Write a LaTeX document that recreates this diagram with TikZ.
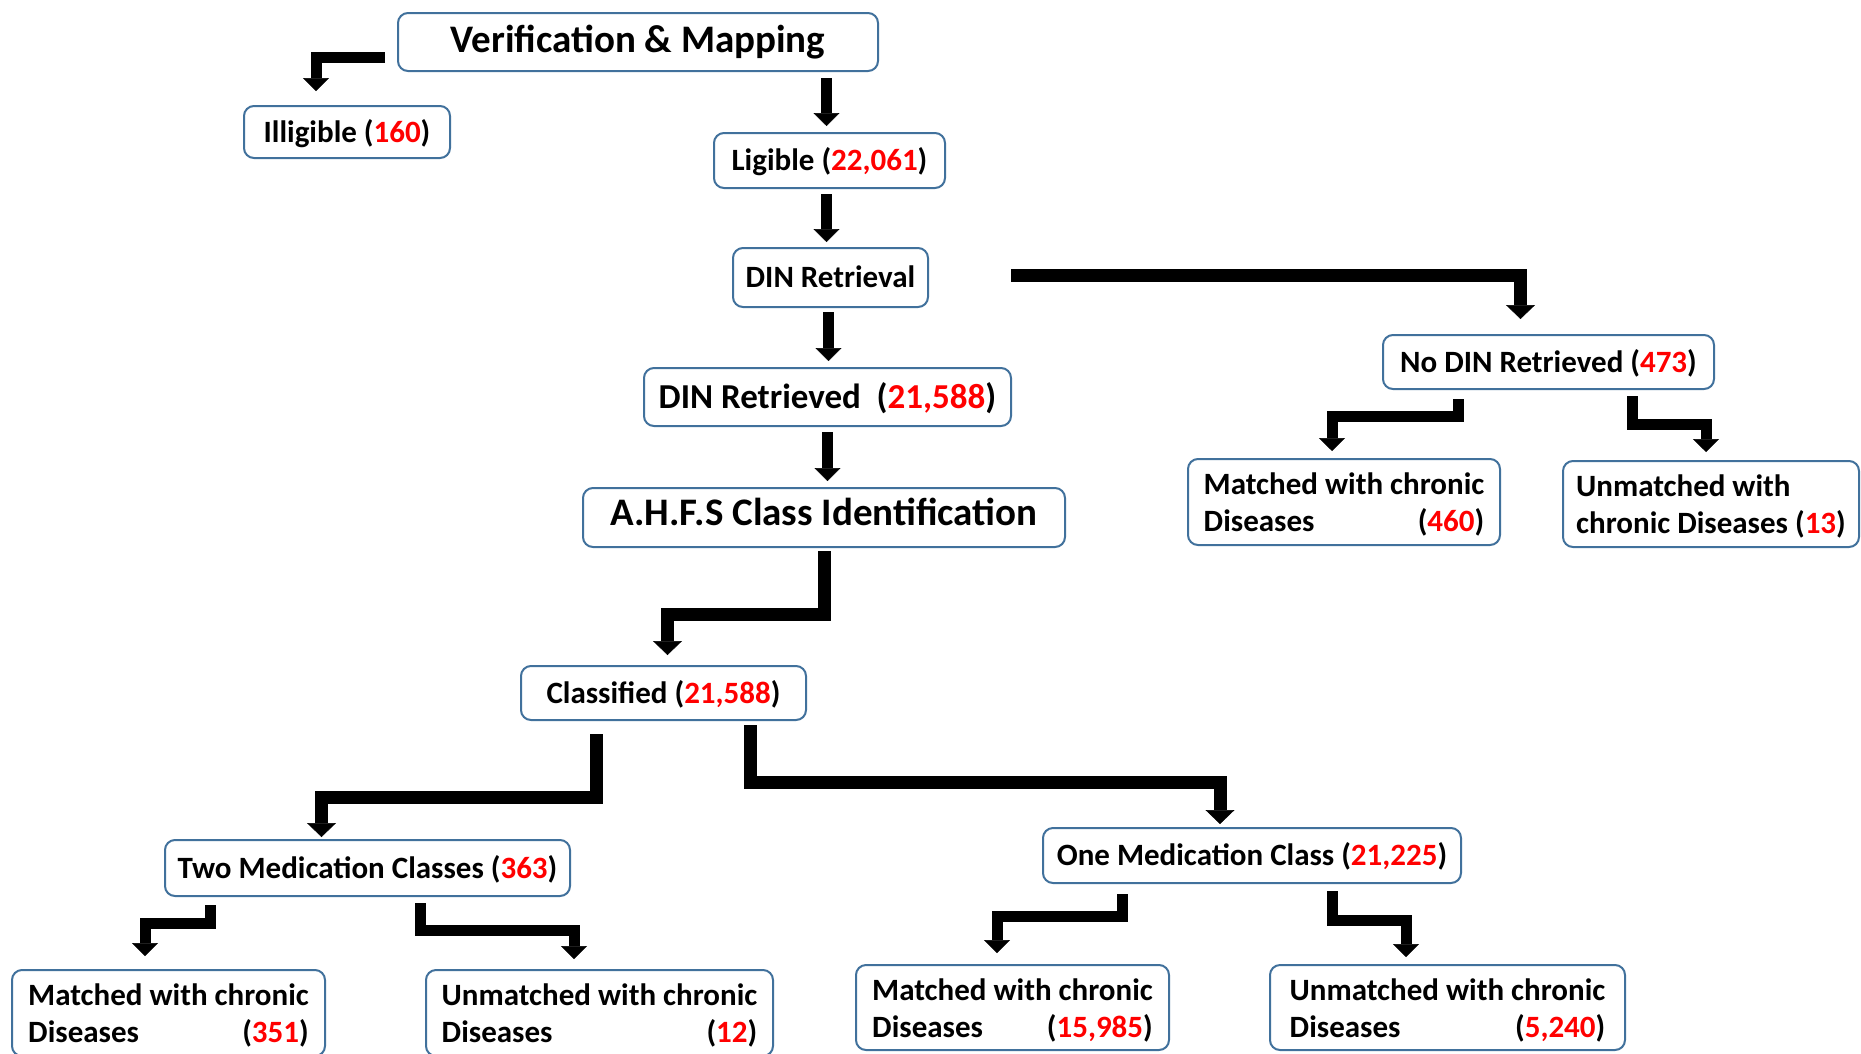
\documentclass[tikz,border=0pt]{standalone}
\usepackage{fontspec}
\setmainfont{Carlito}
\usetikzlibrary{arrows.meta,calc}
\definecolor{boxblue}{RGB}{65,113,156}
\newcommand\rn[1]{\textcolor{red}{#1}}
\newcommand\firstline{\rule{0pt}{33.9pt}}
\begin{document}
\begin{tikzpicture}[x=1pt,y=-1pt,
  box/.style={draw=boxblue, line width=2pt, rounded corners=10pt, fill=white, inner sep=0pt, align=center,
    font=\bfseries\fontsize{31}{37}\selectfont},
  single/.style={text height=24pt, text depth=4pt},
  bigfont/.style={font=\bfseries\fontsize{39}{47}\selectfont, text height=30pt, text depth=10pt},
  conn/.style={line width=11pt, -{Triangle[width=26pt,length=13pt,line width=0.5pt]}},
  heavy/.style={line width=13pt, -{Triangle[width=29pt,length=14pt,line width=0.5pt]}}]
\useasboundingbox (0,0) rectangle (1861,1053);
\fill[white] (0,0) rectangle (1861,1053);

% nodes
\node[box, bigfont, minimum width=480pt, minimum height=58pt] (verif) at (638,42) {Verification \& Mapping};
\node[box, single, minimum width=206pt, minimum height=52pt] (illig) at (347,132) {Illigible (\rn{160})};
\node[box, single, minimum width=231pt, minimum height=55pt] (lig) at (829.5,160.5) {Ligible (\rn{22,061})};
\node[box, single, minimum width=195pt, minimum height=59pt] (dinr) at (830.5,277.5) {DIN Retrieval};
\node[box, minimum width=367pt, minimum height=58pt, font=\bfseries\fontsize{35}{42}\selectfont, text height=27pt, text depth=4pt] (dind) at (827.5,397) {DIN Retrieved\ \ (\rn{21,588})};
\node[box, bigfont, text depth=14pt, minimum width=482pt, minimum height=59pt] (ahfs) at (824,517.5) {A.H.F.S Class Identification};
\node[box, single, minimum width=285pt, minimum height=54pt] (class) at (663.5,693) {Classified (\rn{21,588})};
\node[box, single, minimum width=405pt, minimum height=56pt] (two) at (367.5,868) {Two Medication Classes (\rn{363})};
\node[box, single, minimum width=418pt, minimum height=55pt] (one) at (1252,855.5) {One Medication Class (\rn{21,225})};
\node[box, minimum width=313pt, minimum height=86pt] (m2) at (168.5,1013) {\begin{tabular}{@{}l@{}}\firstline Matched with chronic\\Diseases\hfill(\rn{351})\end{tabular}};
\node[box, minimum width=347pt, minimum height=86pt] (u2) at (599.5,1013) {\begin{tabular}{@{}l@{}}\firstline Unmatched with chronic\\Diseases\hfill(\rn{12})\end{tabular}};
\node[box, minimum width=313pt, minimum height=85pt] (m1) at (1012.5,1007.5) {\begin{tabular}{@{}l@{}}\firstline Matched with chronic\\Diseases\hfill(\rn{15,985})\end{tabular}};
\node[box, minimum width=355pt, minimum height=85pt] (u1) at (1447.5,1007.5) {\begin{tabular}{@{}l@{}}\firstline Unmatched with chronic\\Diseases\hfill(\rn{5,240})\end{tabular}};
\node[box, single, minimum width=331pt, minimum height=54pt] (nodin) at (1548.5,362) {No DIN Retrieved (\rn{473})};
\node[box, minimum width=312pt, minimum height=86pt] (m0) at (1344,502) {\begin{tabular}{@{}l@{}}\firstline Matched with chronic\\Diseases\hfill(\rn{460})\end{tabular}};
\node[box, minimum width=296pt, minimum height=86pt] (u0) at (1711,504) {\begin{tabular}{@{}l@{}}\firstline Unmatched with\\chronic Diseases (\rn{13})\end{tabular}};

% connectors
\draw[conn] ($(verif.west)+(-12,15)$) -| ($(illig.north)+(-31,-14)$);
\draw[conn] ($(verif.south -| lig.north)+(-3,6)$) -- ($(lig.north)+(-3,-6)$);
\draw[conn] ($(lig.south)+(-3,5)$) -- ($(lig.south |- dinr.north)+(-3,-5)$);
\draw[conn] ($(dinr.south)+(-2,4)$) -- ($(dinr.south |- dind.north)+(-2,-6)$);
\draw[conn] ($(dind.south)+(0,5)$) -- ($(dind.south |- ahfs.north)+(0,-6)$);
\draw[heavy] ($(ahfs.south)+(0,3)$) -- ++(0,63) -| ($(class.north)+(4,-10)$);
\draw[heavy] ($(class.south)+(-67.5,13)$) -- ++(0,63) -| ($(two.north)+(-46,-2)$);
\draw[heavy] ($(class.south)+(86.5,4)$) -- ++(0,57) -| ($(one.north)+(-32,-3)$);
\draw[conn] ($(two.south)+(-157.5,8)$) -- ++(0,18) -| ($(m2.north)+(-23.5,-13)$);
\draw[conn] ($(two.south)+(52.5,6)$) -- ++(0,27) -| ($(u2.north)+(-25.5,-10)$);
\draw[conn] ($(one.south)+(-130,10)$) -- ++(0,22) -| ($(m1.north)+(-15.5,-11)$);
\draw[conn] ($(one.south)+(80,7)$) -- ++(0,29) -| ($(u1.north)+(-41.5,-7)$);
\draw[heavy] ($(dinr.east)+(82,-2.5)$) -| ($(nodin.north)+(-28,-15)$);
\draw[conn] ($(nodin.south)+(-90.5,9)$) -- ++(0,17) -| ($(m0.north)+(-12,-7)$);
\draw[conn] ($(nodin.south)+(83.5,6)$) -- ++(0,28) -| ($(u0.north)+(-5,-8)$);
\end{tikzpicture}
\end{document}
